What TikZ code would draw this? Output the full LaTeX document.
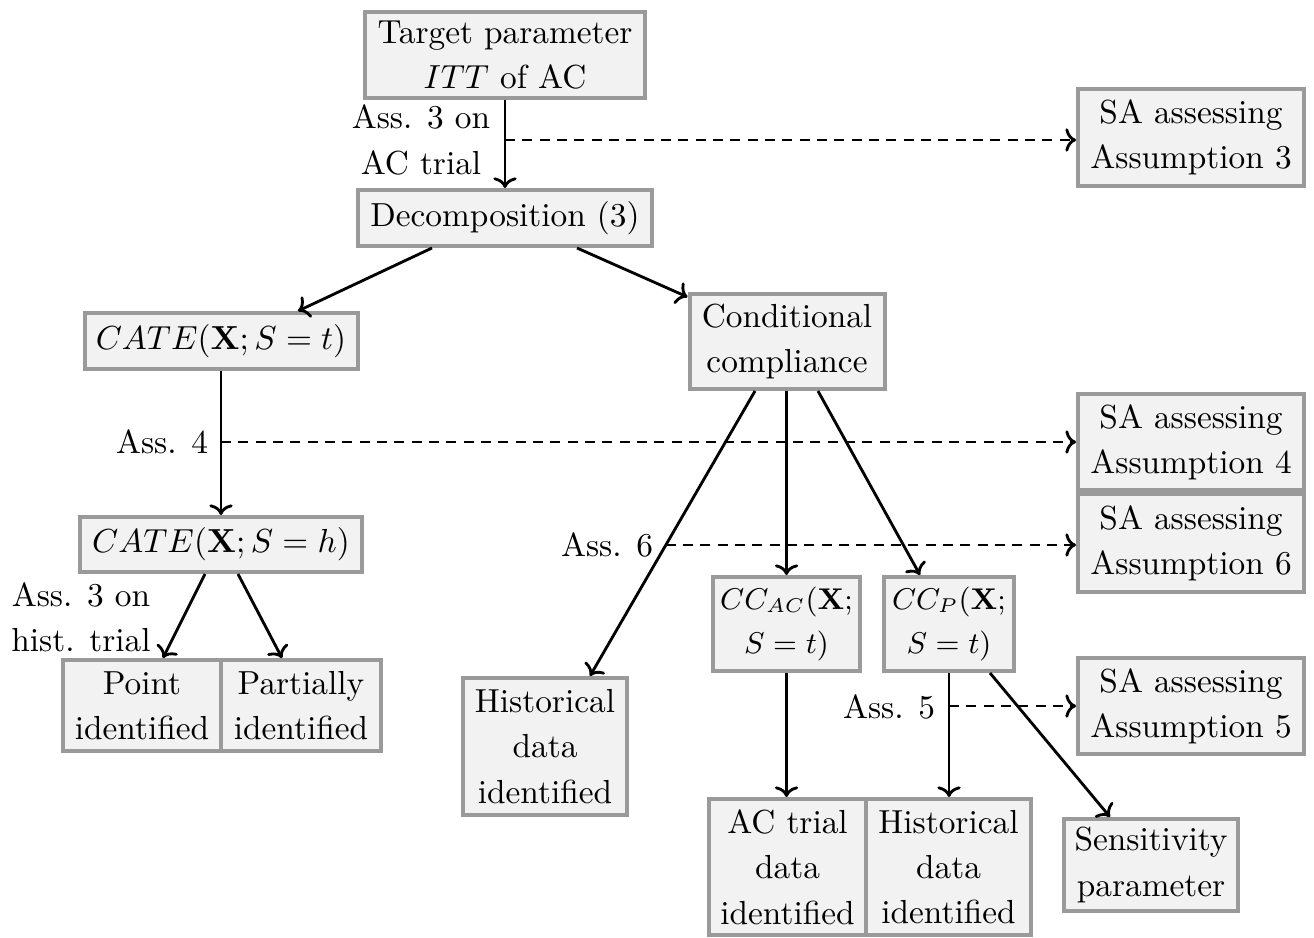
\documentclass[tikz,border=0pt]{standalone}
\usetikzlibrary{calc,arrows.meta}
\definecolor{boxfill}{HTML}{F2F2F2}
\definecolor{boxgray}{HTML}{9A9A9A}
\tikzset{
  box/.style={draw=boxgray, fill=boxfill, line width=1.2pt, inner sep=0pt, align=center,
    font=\fontsize{10}{13.6}\selectfont},
  smallbox/.style={box, font=\fontsize{8.6}{13.4}\selectfont},
  lbl/.style={inner sep=0pt, align=center, font=\fontsize{10}{13.6}\selectfont},
  arr/.style={-{To[length=3.2pt,width=7pt]}, line width=0.85pt},
  dasharr/.style={arr, dash pattern=on 3pt off 2.2pt}
}
\begin{document}
\begin{tikzpicture}[x=0.3pt,y=-0.3pt]
\useasboundingbox (0,0) rectangle (1314,938);
% boxes
\node[box, minimum width=84pt, minimum height=25.8pt] (target) at (505,55) {Target parameter\\$ITT$ of AC};
\node[box, minimum width=88.2pt, minimum height=16.8pt] (dec) at (505,218) {Decomposition (3)};
\node[box, minimum width=67.8pt, minimum height=29.1pt] (sa3) at (1191,137.5) {SA assessing\\Assumption 3};
\node[box, minimum width=81.9pt, minimum height=16.8pt] (catet) at (221,341) {$CATE(\mathbf{X};S=t)$};
\node[box, minimum width=58.5pt, minimum height=28.5pt] (cc) at (787,341.5) {Conditional\\compliance};
\node[box, minimum width=67.8pt, minimum height=28.8pt] (sa4) at (1191,442) {SA assessing\\Assumption 4};
\node[box, minimum width=67.8pt, minimum height=29.4pt] (sa6) at (1191,543) {SA assessing\\Assumption 6};
\node[box, minimum width=84.6pt, minimum height=16.5pt] (cateh) at (221,544.5) {$CATE(\mathbf{X};S=h)$};
\node[smallbox, minimum width=44.1pt, minimum height=28.2pt] (ccac) at (786.5,624) {$CC_{AC}(\mathbf{X};$\\$S=t)$};
\node[smallbox, minimum width=39pt, minimum height=28.2pt] (ccp) at (949,624) {$CC_{P}(\mathbf{X};$\\$S=t)$};
\node[box, minimum width=47.4pt, minimum height=27.3pt] (point) at (142,705.5) {Point\\identified};
\node[box, minimum width=48pt, minimum height=27.3pt] (partial) at (301,705.5) {Partially\\identified};
\node[box, minimum width=49.2pt, minimum height=41.1pt] (histL) at (545,746.5) {Historical\\data\\identified};
\node[box, minimum width=67.8pt, minimum height=28.8pt] (sa5) at (1191,706) {SA assessing\\Assumption 5};
\node[box, minimum width=47.1pt, minimum height=40.8pt] (actrial) at (787.5,867) {AC trial\\data\\identified};
\node[box, minimum width=49.5pt, minimum height=40.8pt] (histR) at (948.5,867) {Historical\\data\\identified};
\node[box, minimum width=52.2pt, minimum height=27.6pt] (sens) at (1151,865) {Sensitivity\\parameter};
% labels
\node[lbl] (l3) at (421,140) {Ass. 3 on\\AC trial};
\node[lbl] (l4) at (162,442) {Ass. 4};
\node[lbl] (l3h) at (81,617) {Ass. 3 on\\hist. trial};
\node[lbl] (l6) at (607,545) {Ass. 6};
\node[lbl] (l5) at (889,707) {Ass. 5};
% coordinates for dashed connectors
\coordinate (d3) at (505,140);
\coordinate (d4) at (221,442);
\coordinate (d6) at (665.5,545);
\coordinate (d5) at (949,706);
% solid arrows
\draw[arr] (target.south) -- (dec.north);
\draw[arr] ($(dec.south)+(-73,0)$) -- ($(catet.north)+(77,0)$);
\draw[arr] ($(dec.south)+(72,0)$) -- ($(cc.north west)+(0,5)$);
\draw[arr] (catet.south) -- (cateh.north);
\draw[arr] ($(cateh.south)+(-16,0)$) -- ($(point.north)+(21,0)$);
\draw[arr] ($(cateh.south)+(17,0)$) -- ($(partial.north)+(-19,0)$);
\draw[arr] ($(cc.south)+(-32,0)$) -- ($(histL.north)+(45,0)$);
\draw[arr] (cc.south -| ccac.north) -- (ccac.north);
\draw[arr] ($(cc.south)+(31,0)$) -- ($(ccp.north)+(-29,0)$);
\draw[arr] (ccac.south) -- (ccac.south |- actrial.north);
\draw[arr] (ccp.south) -- (ccp.south |- histR.north);
\draw[arr] ($(ccp.south)+(41,0)$) -- ($(sens.north)+(-41,0)$);
% dashed arrows
\draw[dasharr] (d3) -- (d3 -| sa3.west);
\draw[dasharr] (d4) -- (d4 -| sa4.west);
\draw[dasharr] (d6) -- (d6 -| sa6.west);
\draw[dasharr] (d5) -- (d5 -| sa5.west);
\end{tikzpicture}
\end{document}
